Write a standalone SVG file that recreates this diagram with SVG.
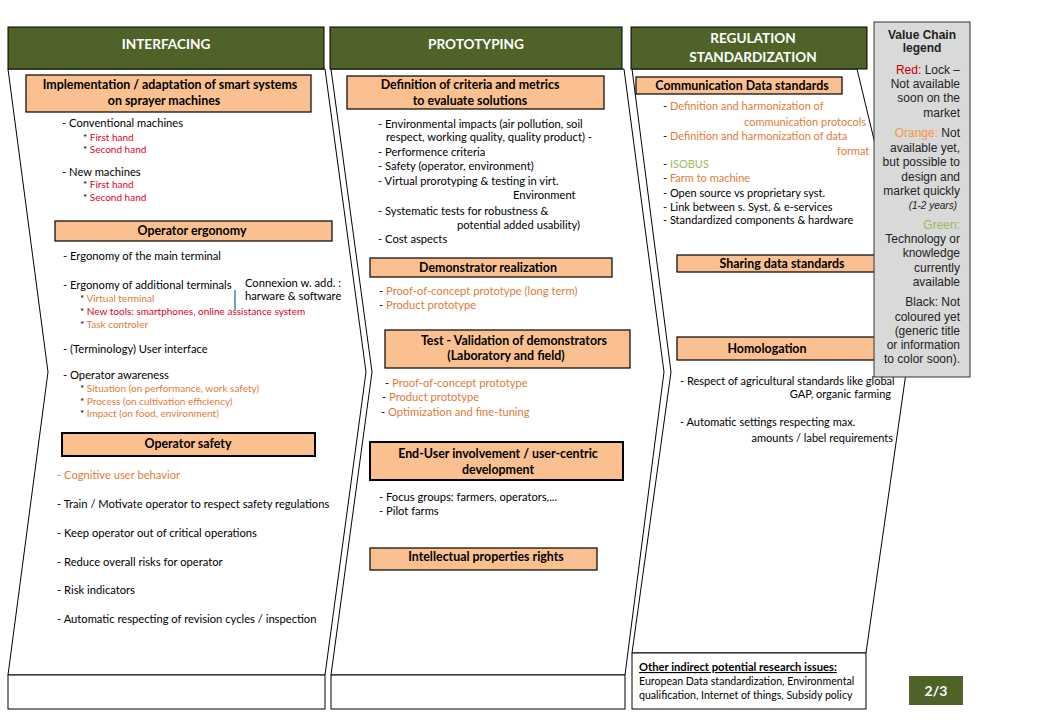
<svg xmlns="http://www.w3.org/2000/svg" width="1040" height="720" viewBox="0 0 1040 720">
<style>
.shape{fill:#fff;stroke:#000;stroke-width:1}
.hdr{fill:#4f6228;stroke:#000;stroke-width:1}
.hdrt{font-family:Lato,"Liberation Sans",sans-serif;font-weight:bold;font-size:13.6px;fill:#fff;text-anchor:middle}
.box{fill:#fac090;stroke:#000;stroke-width:1.2}
.boxk{fill:#fac090;stroke:#000;stroke-width:2}
.boxt{font-family:Lato,"Liberation Sans",sans-serif;font-weight:bold;font-size:12.4px;fill:#000;text-anchor:middle}
.t{font-family:Lato,"Liberation Sans",sans-serif;font-size:11.2px;fill:#000}
.c3{font-size:11px}
.s{font-size:10px}
.r{fill:#e2001a}
.o{fill:#e07b39}
.g{fill:#9bbb59}
.e{text-anchor:end}
.lg{font-family:"Liberation Sans",Arial,sans-serif;font-size:12px;fill:#222;text-anchor:end}
.lgh{font-family:"Liberation Sans",Arial,sans-serif;font-size:12px;font-weight:bold;fill:#222;text-anchor:middle}
</style>
<rect width="1040" height="720" fill="#fff"/>

<g id="col-interfacing">
<path class="shape" d="M8,69 L325,69 L366,372 L325,675 L8,675 L48,372 Z"/>
<rect class="shape" x="8" y="675" width="317" height="34"/>
<rect class="hdr" x="8" y="27" width="316" height="42"/>
<text class="hdrt" x="166" y="48.5">INTERFACING</text>
</g>

<g id="col-prototyping">
<path class="shape" d="M331,69 L624,69 L664,372 L625,675 L331,675 L372,372 Z"/>
<rect class="shape" x="331" y="675" width="294" height="34"/>
<rect class="hdr" x="330" y="27" width="292" height="42"/>
<text class="hdrt" x="476" y="48.5">PROTOTYPING</text>
</g>

<g id="col-regulation">
<path class="shape" d="M632,69 L857,69 L915,310 L866,653 L632,653 L671,372 Z"/>
<rect class="hdr" x="631" y="27" width="236" height="42"/>
<text class="hdrt" x="753" y="42.5">REGULATION</text>
<text class="hdrt" x="753" y="61.5">STANDARDIZATION</text>
</g>

<g id="node-implementation">
<rect class="box" x="26" y="75" width="285" height="37"/>
<text class="boxt" x="170" y="88.5">Implementation / adaptation  of smart systems</text>
<text class="boxt" x="164" y="104.5">on sprayer  machines</text>
<text class="t" x="62" y="127">- Conventional  machines</text>
<text class="t s" x="83" y="140.5">* <tspan class="r">First hand</tspan></text>
<text class="t s" x="83" y="152.5">* <tspan class="r">Second hand</tspan></text>
<text class="t" x="62" y="175.5">- New machines</text>
<text class="t s" x="83" y="187.5">* <tspan class="r">First hand</tspan></text>
<text class="t s" x="83" y="200.5">* <tspan class="r">Second hand</tspan></text>
</g>

<g id="node-ergonomy">
<rect class="box" x="55" y="221" width="277" height="20"/>
<text class="boxt" x="192" y="235">Operator ergonomy</text>
<text class="t" x="63" y="260">- Ergonomy of the main terminal</text>
<text class="t" x="63" y="289">- Ergonomy of additional terminals</text>
<text class="t" x="245" y="287" font-size="9.3">Connexion w. add. :</text>
<text class="t" x="245" y="300" font-size="9.3">harware &amp; software</text>
<text class="t s" x="80" y="301.5">* <tspan class="o">Virtual terminal</tspan></text>
<text class="t s" x="80" y="314.5">* <tspan class="r">New tools: smartphones, online assistance system</tspan></text>
<text class="t s" x="80" y="327.5">* <tspan class="o">Task controler</tspan></text>
<text class="t" x="63" y="353">- (Terminology)  User interface</text>
<text class="t" x="63" y="379">-   Operator awareness</text>
<text class="t s" x="80" y="391.5">* <tspan class="o">Situation (on performance, work safety)</tspan></text>
<text class="t s" x="80" y="404.5">* <tspan class="o">Process (on cultivation efficiency)</tspan></text>
<text class="t s" x="80" y="416.5">* <tspan class="o">Impact (on food, environment)</tspan></text>
</g>

<g id="node-safety">
<rect class="boxk" x="62" y="433" width="253" height="23"/>
<text class="boxt" x="188" y="448">Operator safety</text>
<text class="t o" x="57" y="479">-  Cognitive  user behavior</text>
<text class="t" x="57" y="508">- Train / Motivate  operator to respect safety regulations</text>
<text class="t" x="57" y="537">- Keep operator out  of critical operations</text>
<text class="t" x="57" y="566">- Reduce overall risks for operator</text>
<text class="t" x="57" y="594">- Risk indicators</text>
<text class="t" x="57" y="623">- Automatic respecting of revision cycles / inspection</text>
</g>

<g id="node-criteria">
<rect class="box" x="347" y="76" width="257" height="33"/>
<text class="boxt" x="470" y="88.5">Definition of criteria and metrics</text>
<text class="boxt" x="470" y="104.5">to evaluate solutions</text>
<text class="t" x="378" y="128">-  Environmental impacts (air pollution,  soil</text>
<text class="t" x="386" y="141">respect, working quality, quality product)  -</text>
<text class="t" x="378" y="156">-  Performence criteria</text>
<text class="t" x="378" y="170">-  Safety (operator, environment)</text>
<text class="t" x="378" y="185">-  Virtual prorotyping  &amp; testing in virt.</text>
<text class="t" x="513" y="199">Environment</text>
<text class="t" x="378" y="215">-  Systematic tests for robustness &amp;</text>
<text class="t" x="457" y="229">potential added usability)</text>
<text class="t" x="378" y="243">-  Cost aspects</text>
</g>

<g id="node-demonstrator">
<rect class="box" x="370" y="258" width="242" height="19"/>
<text class="boxt" x="488" y="272">Demonstrator realization</text>
<text class="t" x="379" y="295">-  <tspan class="o">Proof-of-concept  prototype  (long term)</tspan></text>
<text class="t" x="379" y="309">-  <tspan class="o">Product  prototype</tspan></text>
</g>

<g id="node-test">
<rect class="box" x="385" y="330" width="245" height="38"/>
<text class="boxt" x="514" y="344.5">Test - Validation  of demonstrators</text>
<text class="boxt" x="506" y="360">(Laboratory and field)</text>
<text class="t" x="385" y="387"> - <tspan class="o">Proof-of-concept prototype</tspan></text>
<text class="t" x="382" y="401">-  <tspan class="o">Product  prototype</tspan></text>
<text class="t" x="381" y="416">- <tspan class="o">Optimization and fine-tuning</tspan></text>
</g>

<g id="node-enduser">
<rect class="boxk" x="370" y="442" width="253" height="38"/>
<text class="boxt" x="498" y="457.5">End-User involvement  / user-centric</text>
<text class="boxt" x="498" y="473.5">development</text>
<text class="t" x="379" y="501">-  Focus groups: farmers, operators,...</text>
<text class="t" x="379" y="515">-  Pilot farms</text>
</g>

<g id="node-ip">
<rect class="box" x="370" y="548" width="227" height="22"/>
<text class="boxt" x="486" y="560.5">Intellectual properties rights</text>
</g>

<g id="node-communication">
<rect class="box" x="636" y="77" width="206" height="17"/>
<text class="boxt" x="742" y="90">Communication  Data standards</text>
<text class="t c3" x="663" y="110">- <tspan class="o">Definition and harmonization of</tspan></text>
<text class="t c3 o" x="744" y="126">communication protocols</text>
<text class="t c3" x="663" y="140">-  <tspan class="o">Definition and harmonization of data</tspan></text>
<text class="t c3 o" x="837" y="155">format</text>
<text class="t c3" x="663" y="168">- <tspan class="g">ISOBUS</tspan></text>
<text class="t c3" x="663" y="182">- <tspan class="o">Farm to machine</tspan></text>
<text class="t c3" x="663" y="197">- Open source vs proprietary syst.</text>
<text class="t c3" x="663" y="211">-  Link between s. Syst. &amp; e-services</text>
<text class="t c3" x="663" y="224">-  Standardized components  &amp; hardware</text>
</g>

<g id="node-sharing">
<rect class="box" x="677" y="255" width="200" height="17"/>
<text class="boxt" x="782" y="268">Sharing data standards</text>
</g>

<g id="node-homologation">
<rect class="box" x="677" y="337" width="200" height="23"/>
<text class="boxt" x="767" y="353">Homologation</text>
<text class="t c3" x="680" y="385">- Respect of agricultural standards like global</text>
<text class="t c3 e" x="891" y="398">GAP, organic farming</text>
<text class="t c3" x="680" y="426">- Automatic settings respecting max.</text>
<text class="t c3 e" x="893" y="442">amounts / label requirements</text>
</g>

<g id="node-other">
<rect class="shape" x="632" y="653" width="234" height="56"/>
<text class="t" x="639" y="671" font-weight="bold" text-decoration="underline">Other indirect potential research issues:</text>
<text class="t" x="639" y="685" style="font-size:10.6px">European  Data standardization, Environmental</text>
<text class="t" x="639" y="699" style="font-size:10.6px">qualification, Internet  of things, Subsidy policy</text>
</g>

<g id="node-legend">
<rect x="874" y="22" width="96" height="355" fill="#d9d9d9" stroke="#333" stroke-width="1"/>
<text class="lgh" x="922" y="39">Value Chain</text>
<text class="lgh" x="922" y="52">legend</text>
<text class="lg" x="960" y="74"><tspan fill="#c00000">Red:</tspan> Lock –</text>
<text class="lg" x="960" y="88">Not available</text>
<text class="lg" x="960" y="102">soon on the</text>
<text class="lg" x="960" y="117">market</text>
<text class="lg" x="960" y="137"><tspan fill="#f79646">Orange:</tspan> Not</text>
<text class="lg" x="960" y="152">available yet,</text>
<text class="lg" x="960" y="166">but possible to</text>
<text class="lg" x="960" y="181">design and</text>
<text class="lg" x="960" y="195">market quickly</text>
<text class="lg" x="957" y="209" style="font-size:10px;font-style:italic">(1-2 years)</text>
<text class="lg" x="960" y="229"><tspan fill="#9bbb59">Green:</tspan></text>
<text class="lg" x="960" y="243">Technology or</text>
<text class="lg" x="960" y="257">knowledge</text>
<text class="lg" x="960" y="272">currently</text>
<text class="lg" x="960" y="286">available</text>
<text class="lg" x="960" y="306">Black: Not</text>
<text class="lg" x="960" y="321">coloured yet</text>
<text class="lg" x="960" y="335">(generic title</text>
<text class="lg" x="960" y="349">or information</text>
<text class="lg" x="960" y="363">to color soon).</text>
</g>

<g id="node-page">
<rect x="909" y="676" width="54" height="29" fill="#4f6228"/>
<text class="hdrt" x="936" y="695.5" style="font-size:14px">2/3</text>
</g>

<g id="connectors">
<line x1="235" y1="290" x2="235" y2="310" stroke="#4f81bd" stroke-width="1.5"/>
</g>
</svg>
